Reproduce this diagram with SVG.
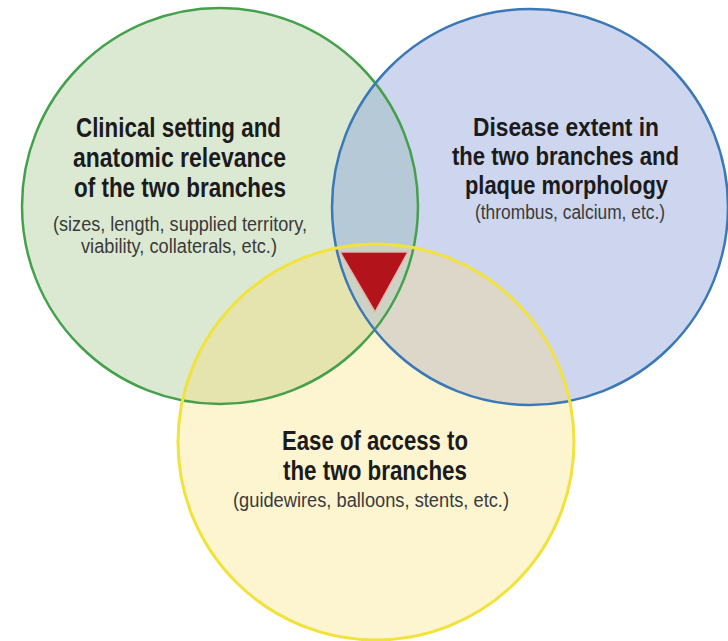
<svg xmlns="http://www.w3.org/2000/svg" width="728" height="641" viewBox="0 0 728 641">
  <style>
    .title { font-family: "Liberation Sans Narrow", "Liberation Sans", Arial, sans-serif; font-weight: bold; font-size: 27px; fill: #1b1b1d; text-anchor: start; }
    .title-sm { font-size: 26px; }
    .sub { font-family: "Liberation Sans Narrow", "Liberation Sans", Arial, sans-serif; font-size: 20px; fill: #3a3a3a; text-anchor: start; }
    .ring { fill: none; }
  </style>
  <defs>
    <clipPath id="clipGreen"><circle cx="220" cy="206" r="198"/></clipPath>
    <clipPath id="clipBlue"><circle cx="530" cy="207" r="198"/></clipPath>
    <clipPath id="clipYellow"><circle cx="376" cy="442" r="198"/></clipPath>
  </defs>

  <rect width="728" height="641" fill="#ffffff"/>

  <!-- circle fills -->
  <g id="fills">
    <circle cx="220" cy="206" r="198" fill="#dce9d2"/>
    <circle cx="530" cy="207" r="198" fill="#cdd6ee"/>
    <circle cx="376" cy="442" r="198" fill="#fdf4d0"/>
    <!-- pairwise overlaps -->
    <g clip-path="url(#clipGreen)">
      <circle cx="530" cy="207" r="198" fill="#b5c9d6"/>
      <circle cx="376" cy="442" r="198" fill="#e5e4ae"/>
    </g>
    <g clip-path="url(#clipBlue)">
      <circle cx="376" cy="442" r="198" fill="#ddd7c9"/>
    </g>
    <!-- triple overlap -->
    <g clip-path="url(#clipGreen)">
      <g clip-path="url(#clipBlue)">
        <circle cx="376" cy="442" r="198" fill="#cdd3c4"/>
      </g>
    </g>
  </g>

  <!-- circle outlines -->
  <g id="outlines">
    <circle class="ring" cx="220" cy="206" r="198" stroke="#45a04c" stroke-width="2.5"/>
    <circle class="ring" cx="530" cy="207" r="198" stroke="#3b78b7" stroke-width="2.5"/>
    <circle class="ring" cx="376" cy="442" r="198" stroke="#f1e23c" stroke-width="3"/>
  </g>

  <!-- centre marker -->
  <g id="center-marker">
    <polygon points="340,252 408,252 375,312" fill="#b3131b" stroke="#eab3aa" stroke-width="1.5" stroke-linejoin="round"/>
  </g>

  <g id="node-clinical">
    <text class="title" x="76" y="137" textLength="205" lengthAdjust="spacingAndGlyphs">Clinical setting and</text>
    <text class="title" x="73" y="167" textLength="213" lengthAdjust="spacingAndGlyphs">anatomic relevance</text>
    <text class="title" x="74" y="197" textLength="212" lengthAdjust="spacingAndGlyphs">of the two branches</text>
    <text class="sub" x="53" y="231" textLength="254" lengthAdjust="spacingAndGlyphs">(sizes, length, supplied territory,</text>
    <text class="sub" x="81" y="253" textLength="196" lengthAdjust="spacingAndGlyphs">viability, collaterals, etc.)</text>
  </g>

  <g id="node-disease">
    <text class="title title-sm" x="473" y="136" textLength="186" lengthAdjust="spacingAndGlyphs">Disease extent in</text>
    <text class="title title-sm" x="452" y="165" textLength="227" lengthAdjust="spacingAndGlyphs">the two branches and</text>
    <text class="title title-sm" x="465" y="194" textLength="203" lengthAdjust="spacingAndGlyphs">plaque morphology</text>
    <text class="sub" x="475" y="219" textLength="190" lengthAdjust="spacingAndGlyphs">(thrombus, calcium, etc.)</text>
  </g>

  <g id="node-access">
    <text class="title" x="282" y="450" textLength="186" lengthAdjust="spacingAndGlyphs">Ease of access to</text>
    <text class="title" x="283" y="480" textLength="184" lengthAdjust="spacingAndGlyphs">the two branches</text>
    <text class="sub" x="233" y="507" textLength="276" lengthAdjust="spacingAndGlyphs">(guidewires, balloons, stents, etc.)</text>
  </g>

  <g id="connectors"/>
</svg>
